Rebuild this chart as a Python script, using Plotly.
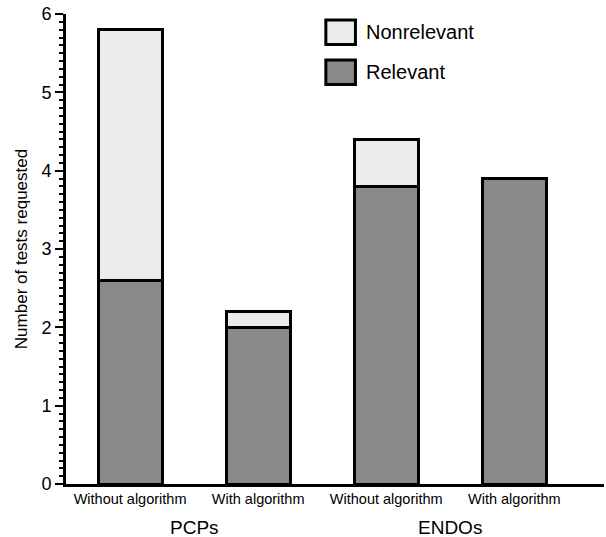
import plotly.graph_objects as go

# groups and conditions
conditions = ["Without algorithm", "With algorithm", "Without algorithm", "With algorithm"]
groups = ["PCPs", "ENDOs"]
relevant = [2.6, 2.0, 3.8, 3.9]
nonrelevant = [3.2, 0.2, 0.6, 0.0]

xpos = list(range(len(conditions)))

fig = go.Figure()
fig.add_trace(go.Bar(
    x=xpos, y=relevant, name="Relevant", width=0.5,
    marker=dict(color="#898989", line=dict(color="black", width=3)),
    showlegend=False,
))
fig.add_trace(go.Bar(
    x=xpos, y=nonrelevant, name="Nonrelevant", width=0.5,
    marker=dict(color="#ececec", line=dict(color="black", width=3)),
    showlegend=False,
))

# legend drawn by hand (bigger swatches than plotly's)
legend_items = [("Nonrelevant", "#ececec", 0.961), ("Relevant", "#898989", 0.876)]
for label, col, yc in legend_items:
    fig.add_shape(type="rect", xref="paper", yref="paper",
                  x0=0.483, x1=0.538, y0=yc - 0.026, y1=yc + 0.026,
                  fillcolor=col, line=dict(color="black", width=3))
    fig.add_annotation(text=label, xref="paper", yref="paper",
                       x=0.553, y=yc, xanchor="left", yanchor="middle",
                       showarrow=False, font=dict(size=20, color="black"))

# group labels under the condition labels
for i, g in enumerate(groups):
    fig.add_annotation(text=g, x=2 * i + 0.5, xref="x", yref="paper", y=-0.092,
                       yanchor="middle", showarrow=False,
                       font=dict(size=19, color="black"))

fig.update_layout(
    barmode="stack",
    width=606, height=537,
    margin=dict(l=66, r=2, t=14, b=53),
    plot_bgcolor="white", paper_bgcolor="white",
    font=dict(family="Liberation Sans, Arial, sans-serif", color="black"),
    xaxis=dict(
        range=[-0.5, 3.7],
        tickvals=xpos, ticktext=conditions,
        tickfont=dict(size=14.5), ticks="", ticklen=0,
        showline=True, linecolor="black", linewidth=3,
        showgrid=False, zeroline=False,
    ),
    yaxis=dict(
        range=[0, 6], dtick=1,
        ticks="outside", ticklen=8, tickwidth=2, tickcolor="black",
        minor=dict(dtick=0.1, ticks="outside", ticklen=4, tickwidth=2, tickcolor="black"),
        tickfont=dict(size=18),
        showline=True, linecolor="black", linewidth=3,
        showgrid=False, zeroline=False,
        title=dict(text="Number of tests requested", font=dict(size=17), standoff=10),
    ),
)

# drop the default 8px body margin so the figure fills the window
fig.write_html("out.html", config={"displayModeBar": False},
               post_script="document.body.style.margin='0';")
